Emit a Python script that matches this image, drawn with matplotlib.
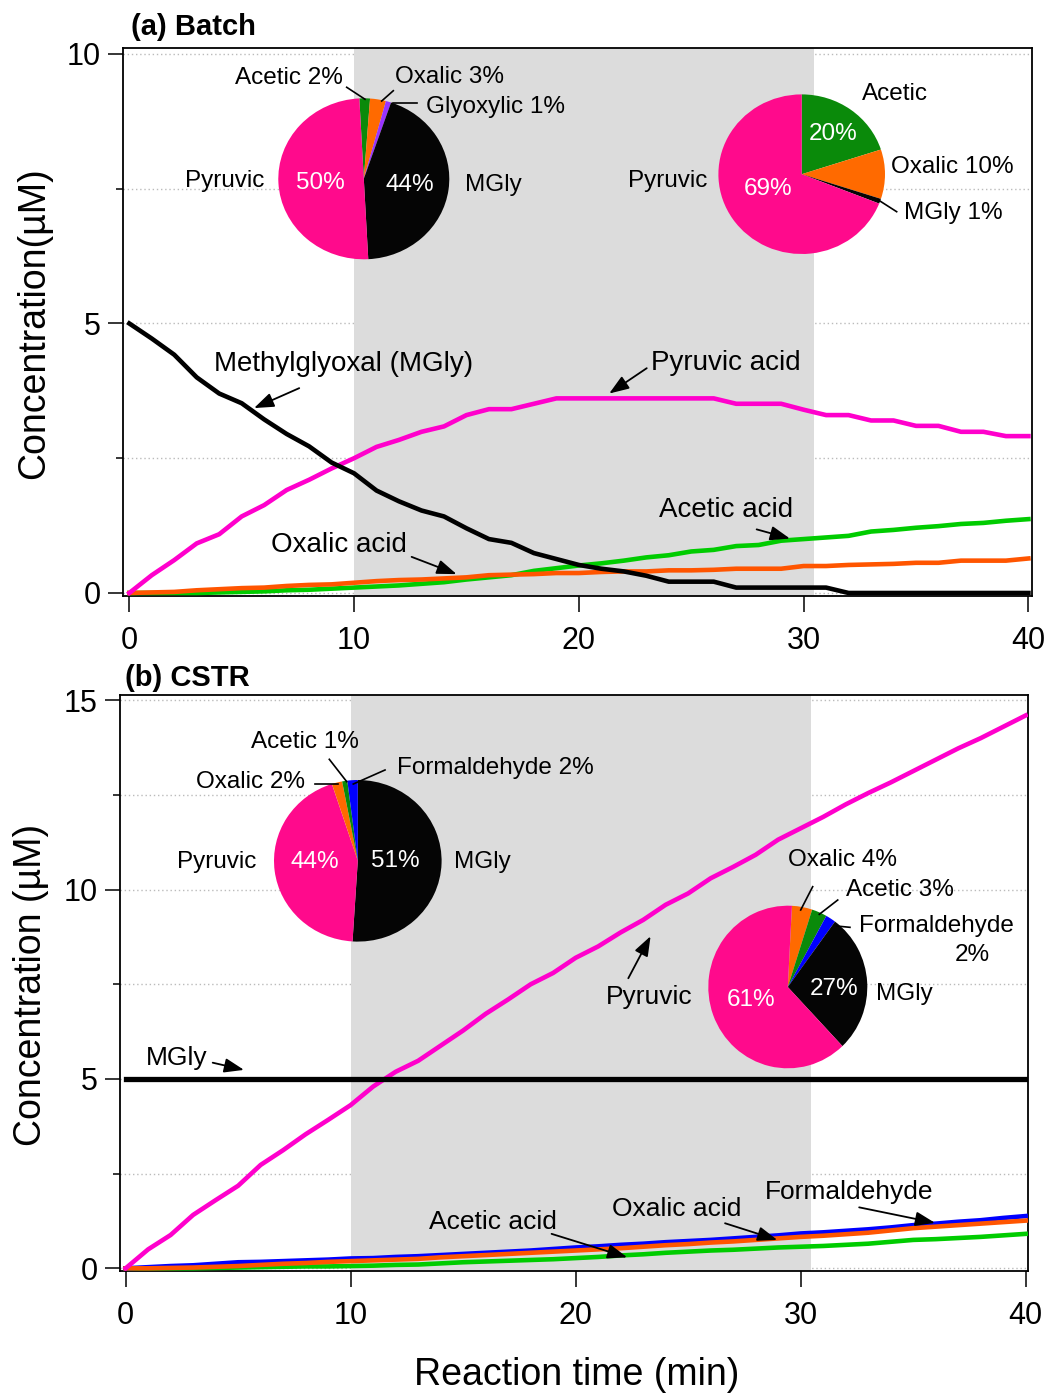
import matplotlib
matplotlib.use("Agg")
import matplotlib.pyplot as plt
from matplotlib.ticker import MultipleLocator

plt.rcParams["font.family"] = ["Liberation Sans", "DejaVu Sans"]

W, H = 1047, 1396

time_min = list(range(41))

# (a) batch reactor, concentrations in uM
batch_mgly = [5.0, 4.72, 4.42, 4.0, 3.7, 3.52, 3.22, 2.95, 2.72, 2.42, 2.22,
              1.9, 1.7, 1.53, 1.42, 1.2, 1.0, 0.93, 0.74, 0.63, 0.52,
              0.45, 0.4, 0.32, 0.21, 0.21, 0.21, 0.1, 0.1, 0.1, 0.1,
              0.1, 0.0, 0.0, 0.0, 0.0, 0.0, 0.0, 0.0, 0.0, 0.0]
batch_pyruvic = [0.0, 0.33, 0.61, 0.92, 1.09, 1.42, 1.63, 1.91, 2.10, 2.31, 2.50,
                 2.71, 2.84, 2.99, 3.09, 3.30, 3.41, 3.41, 3.51, 3.61, 3.61,
                 3.61, 3.61, 3.61, 3.61, 3.61, 3.61, 3.51, 3.51, 3.51, 3.40,
                 3.30, 3.30, 3.20, 3.20, 3.10, 3.10, 2.99, 2.99, 2.91, 2.91]
batch_acetic = [0.0, 0.0, 0.0, 0.0, 0.01, 0.02, 0.03, 0.05, 0.06, 0.08, 0.10,
                0.12, 0.14, 0.17, 0.20, 0.25, 0.29, 0.33, 0.41, 0.46, 0.51,
                0.55, 0.60, 0.66, 0.70, 0.77, 0.80, 0.87, 0.89, 0.97, 1.00,
                1.03, 1.06, 1.14, 1.17, 1.21, 1.24, 1.28, 1.30, 1.34, 1.37]
batch_oxalic = [0.0, 0.01, 0.02, 0.05, 0.07, 0.09, 0.10, 0.13, 0.15, 0.16, 0.19,
                0.22, 0.24, 0.25, 0.27, 0.29, 0.33, 0.34, 0.35, 0.37, 0.37,
                0.39, 0.40, 0.40, 0.42, 0.42, 0.43, 0.45, 0.45, 0.45, 0.50,
                0.50, 0.52, 0.53, 0.54, 0.56, 0.56, 0.60, 0.60, 0.60, 0.64]

# (b) CSTR, concentrations in uM
cstr_mgly = [5.0] * 41
cstr_pyruvic = [0.0, 0.50, 0.88, 1.41, 1.80, 2.18, 2.73, 3.12, 3.54, 3.92, 4.31,
                4.80, 5.19, 5.48, 5.88, 6.28, 6.72, 7.10, 7.50, 7.80, 8.20,
                8.50, 8.87, 9.20, 9.60, 9.90, 10.30, 10.60, 10.92, 11.32, 11.62,
                11.92, 12.25, 12.55, 12.83, 13.13, 13.43, 13.73, 14.00, 14.30, 14.60]
cstr_formaldehyde = [0.0, 0.03, 0.06, 0.08, 0.12, 0.16, 0.17, 0.19, 0.21, 0.23, 0.26,
                     0.27, 0.30, 0.32, 0.35, 0.38, 0.41, 0.44, 0.47, 0.51, 0.55,
                     0.58, 0.62, 0.65, 0.69, 0.72, 0.75, 0.79, 0.83, 0.87, 0.92,
                     0.95, 0.99, 1.03, 1.08, 1.14, 1.18, 1.23, 1.27, 1.33, 1.38]
cstr_oxalic = [0.0, 0.0, 0.01, 0.02, 0.04, 0.06, 0.09, 0.12, 0.14, 0.17, 0.19,
               0.21, 0.23, 0.25, 0.29, 0.32, 0.35, 0.38, 0.41, 0.44, 0.47,
               0.50, 0.53, 0.57, 0.61, 0.64, 0.68, 0.71, 0.75, 0.79, 0.83,
               0.86, 0.90, 0.94, 1.00, 1.06, 1.10, 1.14, 1.18, 1.22, 1.26]
cstr_acetic = [0.0, 0.0, 0.0, 0.0, 0.01, 0.02, 0.03, 0.04, 0.05, 0.05, 0.06,
               0.07, 0.09, 0.10, 0.13, 0.16, 0.18, 0.20, 0.22, 0.24, 0.27,
               0.30, 0.34, 0.37, 0.41, 0.44, 0.47, 0.49, 0.52, 0.55, 0.57,
               0.59, 0.62, 0.65, 0.70, 0.75, 0.77, 0.80, 0.83, 0.87, 0.91]

# irradiation window (min)
light_on, light_off = 10, 30.45

# product distributions (%), wedges listed clockwise from start angle
pie_a1_names = ["Acetic", "Oxalic", "Glyoxylic", "MGly", "Pyruvic"]
pie_a1_vals = [2, 3, 1, 44, 50]
pie_a2_names = ["Acetic", "Oxalic", "MGly", "Pyruvic"]
pie_a2_vals = [20, 10, 1, 69]
pie_b1_names = ["MGly", "Pyruvic", "Oxalic", "Acetic", "Formaldehyde"]
pie_b1_vals = [51, 44, 2, 1, 2]
pie_b2_names = ["Oxalic", "Acetic", "Formaldehyde", "MGly", "Pyruvic"]
pie_b2_vals = [4, 3, 2, 27, 61]

LINE = {"MGly": "black", "Pyruvic": "#ff00cc", "Acetic": "#00cc00",
        "Oxalic": "#ff5500", "Formaldehyde": "#0000ff"}
WEDGE = {"MGly": "#050505", "Pyruvic": "#ff0a8c", "Acetic": "#0a8a0a",
         "Oxalic": "#ff6a00", "Formaldehyde": "#0000ff", "Glyoxylic": "#9933ff"}

fig = plt.figure(figsize=(W / 100, H / 100), dpi=100)


def px_axes(left, top, right, bottom):
    return fig.add_axes([left / W, 1 - bottom / H, (right - left) / W, (bottom - top) / H])


def style_axes(ax, xlim, ylim, major, minor):
    ax.set_xlim(*xlim)
    ax.set_ylim(*ylim)
    ax.xaxis.set_major_locator(MultipleLocator(10))
    ax.yaxis.set_major_locator(MultipleLocator(major))
    ax.yaxis.set_minor_locator(MultipleLocator(minor))
    ax.tick_params(axis="both", which="major", direction="out", width=1.1,
                   labelsize=22, pad=5)
    ax.tick_params(axis="x", which="major", length=11.5, pad=10)
    ax.tick_params(axis="y", which="major", length=11)
    ax.tick_params(axis="y", which="minor", length=5, width=1.1)
    for s in ax.spines.values():
        s.set_linewidth(1.3)
    ax.set_axisbelow(True)
    ax.grid(True, axis="y", which="both", color="#bbbbbb",
            linestyle=(0, (1, 2)), linewidth=1)
    ax.axvspan(light_on, light_off, color="#dcdcdc", lw=0, zorder=1)


def arrow(ax, tail, tip):
    ax.annotate("", xy=tip, xytext=tail,
                arrowprops=dict(arrowstyle="-|>,head_length=0.6,head_width=0.22",
                                color="black", lw=1.3, mutation_scale=20,
                                shrinkA=0, shrinkB=0), zorder=6)


def add_pie(cx, cy, rx, ry, names, vals, start):
    ax = fig.add_axes([(cx - rx) / W, 1 - (cy + ry) / H, 2 * rx / W, 2 * ry / H])
    ax.pie(vals, colors=[WEDGE[n] for n in names], startangle=start,
           counterclock=False, radius=1, wedgeprops=dict(linewidth=0))
    ax.set_aspect("auto")
    ax.set_xlim(-1, 1)
    ax.set_ylim(-1, 1)
    return ax


def pie_text(ax, u, v, s, color="black", ha="center"):
    ax.text(u, v, s, ha=ha, va="center", fontsize=17.5, color=color)


def leader(ax, p1, p2):
    ax.plot([p1[0], p2[0]], [p1[1], p2[1]], color="black", lw=1.2, clip_on=False)


# ---------------- (a) Batch ----------------
ax1 = px_axes(123, 48, 1032, 596)
style_axes(ax1, (-0.28, 40.16), (-0.056, 10.11), 5, 2.5)
ax1.plot(time_min, batch_acetic, color=LINE["Acetic"], lw=3.3, zorder=3)
ax1.plot(time_min, batch_oxalic, color=LINE["Oxalic"], lw=3.3, zorder=3)
ax1.plot(time_min, batch_pyruvic, color=LINE["Pyruvic"], lw=3.3, zorder=3)
ax1.plot(time_min, batch_mgly, color=LINE["MGly"], lw=3.3, zorder=3)
ax1.set_ylabel("Concentration(µM)", fontsize=27)
ax1.yaxis.set_label_coords(-0.078, 0.498)

ax1.text(9.52, 4.25, "Methylglyoxal (MGly)", fontsize=20, ha="center", va="center")
arrow(ax1, (7.56, 3.80), (5.55, 3.43))
ax1.text(26.54, 4.27, "Pyruvic acid", fontsize=20, ha="center", va="center")
arrow(ax1, (23.02, 4.17), (21.35, 3.70))
ax1.text(26.54, 1.54, "Acetic acid", fontsize=20, ha="center", va="center")
arrow(ax1, (27.91, 1.18), (29.39, 1.01))
ax1.text(9.33, 0.89, "Oxalic acid", fontsize=20, ha="center", va="center")
arrow(ax1, (12.56, 0.67), (14.56, 0.35))

fig.text(131 / W, 1 - 27 / H, "(a) Batch", fontsize=21, fontweight="bold",
         ha="left", va="center")

p = add_pie(363.8, 178.8, 85.5, 80.5, pie_a1_names, pie_a1_vals, 93)
pie_text(p, -0.875, 1.252, f"Acetic {pie_a1_vals[0]}%")
leader(p, (-0.2, 1.137), (0.014, 0.988))
pie_text(p, 1.008, 1.264, f"Oxalic {pie_a1_vals[1]}%")
leader(p, (0.345, 1.094), (0.209, 0.966))
pie_text(p, 1.535, 0.892, f"Glyoxylic {pie_a1_vals[2]}%")
leader(p, (0.619, 0.945), (0.338, 0.945))
pie_text(p, -1.623, -0.027, "Pyruvic")
pie_text(p, -0.512, -0.052, f"{pie_a1_vals[4]}%", color="white")
pie_text(p, 0.541, -0.077, f"{pie_a1_vals[3]}%", color="white")
pie_text(p, 1.511, -0.077, "MGly")

p = add_pie(801.7, 174.2, 83.3, 79.8, pie_a2_names, pie_a2_vals, 90)
pie_text(p, 1.12, 1.005, "Acetic")
pie_text(p, 0.376, 0.504, f"{pie_a2_vals[0]}%", color="white")
pie_text(p, 1.804, 0.09, f"Oxalic {pie_a2_vals[1]}%")
pie_text(p, 1.816, -0.486, f"MGly {pie_a2_vals[2]}%")
leader(p, (1.14, -0.47), (0.92, -0.323))
pie_text(p, -1.605, -0.085, "Pyruvic")
pie_text(p, -0.405, -0.185, f"{pie_a2_vals[3]}%", color="white")

# ---------------- (b) CSTR ----------------
ax2 = px_axes(120, 695, 1027.7, 1270.7)
style_axes(ax2, (-0.25, 40.09), (-0.063, 15.14), 5, 2.5)
ax2.plot(time_min, cstr_acetic, color=LINE["Acetic"], lw=3.3, zorder=3)
ax2.plot(time_min, cstr_formaldehyde, color=LINE["Formaldehyde"], lw=3.3, zorder=3)
ax2.plot(time_min, cstr_oxalic, color=LINE["Oxalic"], lw=3.3, zorder=3)
ax2.plot(time_min, cstr_pyruvic, color=LINE["Pyruvic"], lw=3.3, zorder=3)
ax2.plot(time_min, cstr_mgly, color=LINE["MGly"], lw=3.8, zorder=3)
ax2.set_ylabel("Concentration (µM)", fontsize=27)
ax2.yaxis.set_label_coords(-0.078, 0.496)
ax2.set_xlabel("Reaction time (min)", fontsize=27)
ax2.xaxis.set_label_coords(0.503, -0.15)

ax2.text(2.28, 5.55, "MGly", fontsize=19, ha="center", va="center")
arrow(ax2, (3.87, 5.43), (5.26, 5.24))
ax2.text(23.26, 7.16, "Pyruvic", fontsize=19, ha="center", va="center")
arrow(ax2, (22.34, 7.66), (23.33, 8.77))
ax2.text(16.32, 1.22, "Acetic acid", fontsize=19, ha="center", va="center")
arrow(ax2, (18.93, 0.91), (22.29, 0.29))
ax2.text(24.5, 1.57, "Oxalic acid", fontsize=19, ha="center", va="center")
arrow(ax2, (26.64, 1.19), (28.96, 0.75))
ax2.text(32.15, 2.01, "Formaldehyde", fontsize=19, ha="center", va="center")
arrow(ax2, (32.6, 1.61), (35.97, 1.20))

fig.text(125 / W, 1 - 678 / H, "(b) CSTR", fontsize=21, fontweight="bold",
         ha="left", va="center")

p = add_pie(357.8, 860.8, 83.8, 80.8, pie_b1_names, pie_b1_vals, 90)
pie_text(p, -0.63, 1.47, f"Acetic {pie_b1_vals[3]}%")
leader(p, (-0.34, 1.256), (-0.132, 0.979))
pie_text(p, -1.286, 0.975, f"Oxalic {pie_b1_vals[2]}%")
leader(p, (-0.511, 0.947), (-0.233, 0.947))
pie_text(p, 1.637, 1.148, f"Formaldehyde {pie_b1_vals[4]}%")
leader(p, (0.325, 1.124), (-0.054, 0.95))
pie_text(p, -1.68, -0.015, "Pyruvic")
pie_text(p, -0.511, -0.015, f"{pie_b1_vals[1]}%", color="white")
pie_text(p, 0.444, 0.0, f"{pie_b1_vals[0]}%", color="white")
pie_text(p, 1.482, -0.015, "MGly")

p = add_pie(787.8, 987, 79.5, 81.3, pie_b2_names, pie_b2_vals, 87)
pie_text(p, 0.694, 1.562, f"Oxalic {pie_b2_vals[0]}%")
leader(p, (0.313, 1.234), (0.162, 0.947))
pie_text(p, 1.411, 1.193, f"Acetic {pie_b2_vals[1]}%")
leader(p, (0.628, 1.07), (0.396, 0.894))
pie_text(p, 1.864, 0.75, "Formaldehyde")
pie_text(p, 2.317, 0.394, f"{pie_b2_vals[2]}%")
leader(p, (0.782, 0.734), (0.615, 0.75))
pie_text(p, 1.462, -0.086, "MGly")
pie_text(p, 0.581, -0.025, f"{pie_b2_vals[3]}%", color="white")
pie_text(p, -0.463, -0.16, f"{pie_b2_vals[4]}%", color="white")

fig.savefig("out.png", dpi=100)
